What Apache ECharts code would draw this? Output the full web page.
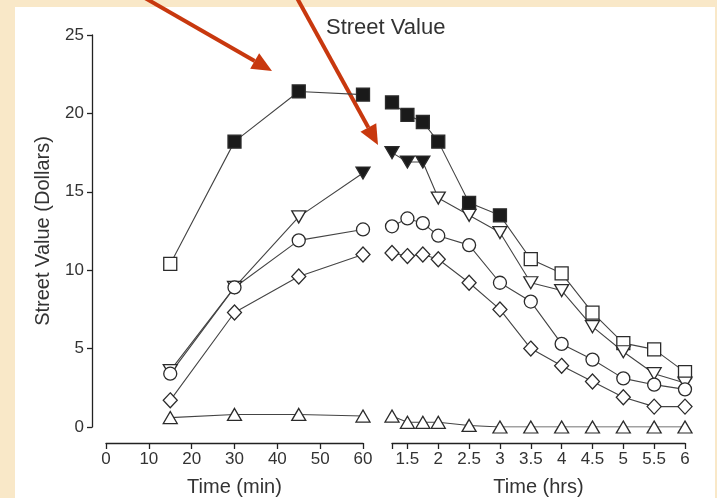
<!DOCTYPE html>
<html>
<head>
<meta charset="utf-8">
<script src="https://cdn.jsdelivr.net/npm/echarts@6/dist/echarts.min.js"></script>
<style>
    html, body { margin: 0; padding: 0; background: #f9e8c8; }
    #panel { position: absolute; left: 15px; top: 7px; width: 700px; height: 491px; background: #fff; }
    #chart { position: absolute; left: 0; top: 0; width: 717px; height: 498px; }
</style>
</head>
<body>
<div id="panel"></div>
<div id="chart"></div>
<script>
// x positions
var minutes = [15, 30, 45, 60];
var hours = [1.25, 1.5, 1.75, 2, 2.5, 3, 3.5, 4, 4.5, 5, 5.5, 6];

// tick labels
var minTicks = [0, 10, 20, 30, 40, 50, 60];
var hrTickMarks = [1.25, 1.5, 2, 2.5, 3, 3.5, 4, 4.5, 5, 5.5, 6];
var hrTickLabels = [1.5, 2, 2.5, 3, 3.5, 4, 4.5, 5, 5.5, 6];

// series values (dollars), 1 = filled marker
var squareMin = [10.4, 18.2, 21.4, 21.2];
var squareHr = [20.7, 19.9, 19.45, 18.2, 14.3, 13.5, 10.7, 9.8, 7.3, 5.35, 4.95, 3.5];
var squareFilledMin = [0, 1, 1, 1];
var squareFilledHr = [1, 1, 1, 1, 1, 1, 0, 0, 0, 0, 0, 0];

var triDownMin = [3.6, 8.9, 13.4, 16.2];
var triDownHr = [17.5, 16.9, 16.9, 14.6, 13.5, 12.4, 9.2, 8.7, 6.4, 4.8, 3.4, 2.8];
var triDownFilledMin = [0, 0, 0, 1];
var triDownFilledHr = [1, 1, 1, 0, 0, 0, 0, 0, 0, 0, 0, 0];

var circleMin = [3.4, 8.9, 11.9, 12.6];
var circleHr = [12.8, 13.3, 13.0, 12.2, 11.6, 9.2, 8.0, 5.3, 4.3, 3.1, 2.7, 2.4];

var diamondMin = [1.7, 7.3, 9.6, 11.0];
var diamondHr = [11.1, 10.9, 11.0, 10.7, 9.2, 7.5, 5.0, 3.9, 2.9, 1.9, 1.3, 1.3];

var triUpMin = [0.6, 0.8, 0.8, 0.7];
var triUpHr = [0.7, 0.3, 0.3, 0.3, 0.1, 0, 0, 0, 0, 0, 0, 0];

var FONT = "'Liberation Sans', Arial, sans-serif";
var INK = '#2b2b2b';

var chart = echarts.init(document.getElementById('chart'));

// 把x和y组合成点, filled决定实心还是空心
function points(xs, ys, filled) {
    return xs.map(function (x, i) {
        var solid = filled && filled[i];
        return {
            value: [x, ys[i]],
            itemStyle: { color: solid ? '#1a1a1a' : '#fff' }
        };
    });
}

function makeSeries(name, gridIdx, xs, ys, filled, symbol, size, rotate) {
    return {
        name: name,
        type: 'line',
        xAxisIndex: gridIdx,
        yAxisIndex: gridIdx,
        data: points(xs, ys, filled),
        symbol: symbol,
        symbolSize: size,
        symbolRotate: rotate || 0,
        showAllSymbol: true,
        lineStyle: { color: '#444', width: 1.1 },
        itemStyle: { borderColor: INK, borderWidth: 1.3 },
        emphasis: { disabled: true },
        animation: false
    };
}

// 红色箭头 (注释)
function arrow(x1, y1, x2, y2) {
    var dx = x2 - x1, dy = y2 - y1;
    var len = Math.sqrt(dx * dx + dy * dy);
    var ux = dx / len, uy = dy / len;
    var hl = 20, hw = 9;
    var bx = x2 - ux * hl, by = y2 - uy * hl;
    return [
        {
            type: 'line',
            shape: { x1: x1, y1: y1, x2: bx, y2: by },
            style: { stroke: '#c8380e', lineWidth: 4 }
        },
        {
            type: 'polygon',
            shape: { points: [[x2, y2], [bx - uy * hw, by + ux * hw], [bx + uy * hw, by - ux * hw]] },
            style: { fill: '#c8380e' }
        }
    ];
}

var axisLineStyle = { color: '#222', width: 1.3 };
var labelStyle = { color: '#333', fontSize: 17, fontFamily: FONT };
var nameStyle = { color: '#333', fontSize: 20, fontFamily: FONT };

var option = {
    title: {
        text: 'Street Value',
        left: 321,
        top: 12,
        textStyle: { fontSize: 22, fontWeight: 'normal', color: '#333', fontFamily: FONT }
    },
    grid: [
        { left: 106, right: 354, top: 35, bottom: 71, outerBoundsMode: 'none' },
        { left: 392, right: 32, top: 35, bottom: 71, outerBoundsMode: 'none' }
    ],
    xAxis: [
        {
            gridIndex: 0, type: 'value', min: 0, max: 60, interval: 10, offset: 16,
            axisLine: { show: true, onZero: false, lineStyle: axisLineStyle },
            axisTick: { show: true, length: 6, lineStyle: axisLineStyle },
            axisLabel: labelStyle,
            splitLine: { show: false },
            name: 'Time (min)', nameLocation: 'middle', nameGap: 34, nameMoveOverlap: false,
            nameTextStyle: nameStyle
        },
        {
            gridIndex: 1, type: 'value', min: 1.25, max: 6, offset: 16,
            axisLine: { show: true, onZero: false, lineStyle: axisLineStyle },
            axisTick: { show: true, length: 6, lineStyle: axisLineStyle, customValues: hrTickMarks },
            axisLabel: Object.assign({ customValues: hrTickLabels }, labelStyle),
            splitLine: { show: false },
            name: 'Time (hrs)', nameLocation: 'middle', nameGap: 34, nameMoveOverlap: false,
            nameTextStyle: nameStyle
        }
    ],
    yAxis: [
        {
            gridIndex: 0, type: 'value', min: 0, max: 25, interval: 5, offset: 14,
            axisLine: { show: true, onZero: false, lineStyle: axisLineStyle },
            axisTick: { show: true, length: 5, lineStyle: axisLineStyle },
            axisLabel: Object.assign({ margin: 8 }, labelStyle),
            splitLine: { show: false },
            name: 'Street Value (Dollars)', nameLocation: 'middle', nameGap: 39, nameMoveOverlap: false,
            nameTextStyle: nameStyle
        },
        {
            gridIndex: 1, type: 'value', min: 0, max: 25, interval: 5, show: false
        }
    ],
    series: [
        makeSeries('square', 0, minutes, squareMin, squareFilledMin, 'rect', 13),
        makeSeries('square', 1, hours, squareHr, squareFilledHr, 'rect', 13),
        makeSeries('triDown', 0, minutes, triDownMin, triDownFilledMin, 'triangle', [14, 12], 180),
        makeSeries('triDown', 1, hours, triDownHr, triDownFilledHr, 'triangle', [14, 12], 180),
        makeSeries('circle', 0, minutes, circleMin, null, 'circle', 13),
        makeSeries('circle', 1, hours, circleHr, null, 'circle', 13),
        makeSeries('diamond', 0, minutes, diamondMin, null, 'diamond', [14, 15]),
        makeSeries('diamond', 1, hours, diamondHr, null, 'diamond', [14, 15]),
        makeSeries('triUp', 0, minutes, triUpMin, null, 'triangle', [14, 12]),
        makeSeries('triUp', 1, hours, triUpHr, null, 'triangle', [14, 12])
    ],
    graphic: arrow(145, -2, 272, 71).concat(arrow(297, -2, 378, 145))
};

chart.setOption(option);
</script>
</body>
</html>
